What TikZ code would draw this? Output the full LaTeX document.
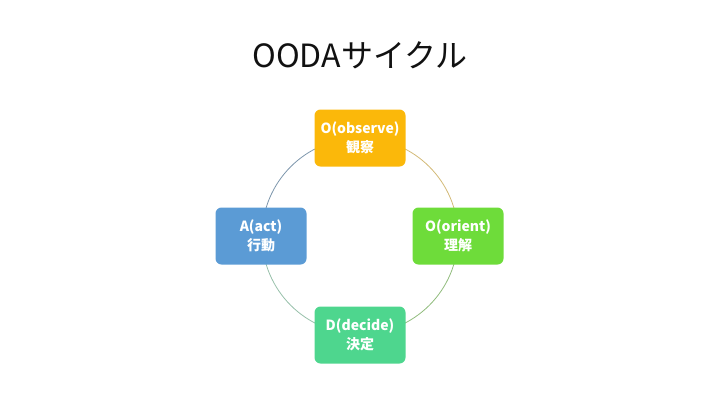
\documentclass[tikz,border=0pt]{standalone}
\usepackage{fontspec}
\setmainfont{Noto Sans CJK JP}
\usepackage{xcolor}
\usetikzlibrary{positioning}
\definecolor{oodaOrange}{HTML}{FBB80A}
\definecolor{oodaGreen}{HTML}{6EDC3A}
\definecolor{oodaTeal}{HTML}{4ED68E}
\definecolor{oodaBlue}{HTML}{5B9BD5}
\definecolor{oodaTitle}{HTML}{111111}
\tikzset{
  phase/.style={rectangle,rounded corners=6pt,draw=none,
    minimum width=91pt,minimum height=57pt,align=center,
    text=white,font=\fontsize{14}{19}\selectfont\bfseries},
  ring/.style={line width=0.8pt},
  title/.style={font=\fontsize{32}{38}\selectfont,text=oodaTitle}
}
\begin{document}
\begin{tikzpicture}[x=1pt,y=-1pt]
\useasboundingbox (0,0) rectangle (720,405);
\coordinate (c) at (360,236);
\node[title] (ttl) at (360,55) {OODAサイクル};
% cycle ring (y runs downward, so -90 is the top)
\draw[ring,oodaOrange!70!black!55] (c) ++(-90:98) arc[start angle=-90,end angle=0,radius=98];
\draw[ring,oodaGreen!65!black!60] (c) ++(0:98) arc[start angle=0,end angle=90,radius=98];
\draw[ring,oodaTeal!60!black!50] (c) ++(90:98) arc[start angle=90,end angle=180,radius=98];
\draw[ring,oodaBlue!60!black!65] (c) ++(180:98) arc[start angle=180,end angle=270,radius=98];
% phases
\node[phase,fill=oodaOrange] (obs) at (360,138) {O(observe)\\観察};
\node[phase,fill=oodaGreen] (ori) at (458,236) {O(orient)\\理解};
\node[phase,fill=oodaTeal] (dec) at (360,335) {D(decide)\\決定};
\node[phase,fill=oodaBlue] (act) at (261,236) {A(act)\\行動};
\end{tikzpicture}
\end{document}
